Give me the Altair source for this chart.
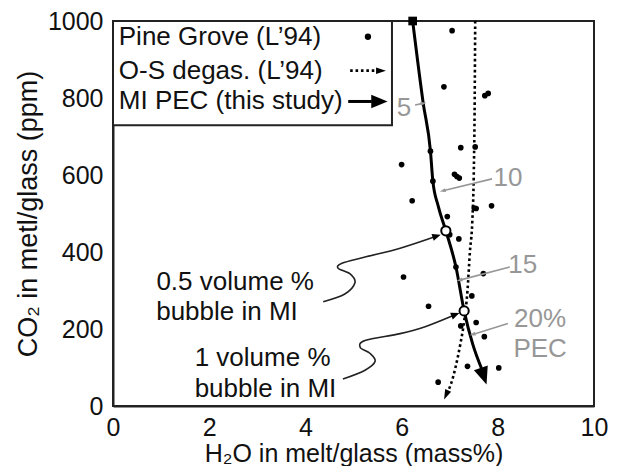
import math
import altair as alt
import pandas as pd

# ---------------- data ----------------
pine_h2o = [7.05, 6.88, 7.73, 7.80, 7.23, 7.53, 6.60, 6.00, 7.10, 7.15,
            7.20, 6.65, 6.22, 7.51, 7.55, 7.87, 6.95, 7.00, 7.19, 7.13,
            7.70, 6.04, 7.46, 6.56, 7.55, 7.23, 7.72, 7.37, 8.02, 6.76]
pine_co2 = [975, 829, 806, 812, 671, 673, 662, 627, 602, 596,
            592, 584, 533, 514, 513, 520, 492, 445, 434, 361,
            344, 335, 286, 259, 217, 208, 180, 103, 99, 62]

pec_h2o = [6.23, 6.45, 6.60, 6.65, 6.76, 6.92, 7.13, 7.30, 7.48, 7.66]
pec_co2 = [1000, 786, 662, 584, 520, 455, 361, 247, 160, 98]
pec_head = (7.70, 80)

deg_h2o = [7.53, 7.52, 7.50, 7.47, 7.42, 7.37, 7.30, 7.22, 7.12, 7.02, 6.97]
deg_co2 = [1000, 800, 600, 480, 400, 300, 220, 160, 100, 55, 40]
deg_head = (6.93, 30)

start_pt = (6.23, 1000)
bubble_h2o = [6.92, 7.30]
bubble_co2 = [455, 247]

curve1_h2o = [4.37, 4.82, 5.03, 4.93, 4.68, 4.76, 5.24, 5.97, 6.72]
curve1_co2 = [271, 291, 320, 343, 358, 371, 387, 410, 441]
curve2_h2o = [4.78, 5.24, 5.45, 5.34, 5.14, 5.24, 5.97, 6.49, 7.11]
curve2_co2 = [70, 93, 116, 137, 152, 170, 188, 206, 237]

note_text = ["0.5 volume %", "bubble in MI", "1 volume %", "bubble in MI"]
note_h2o = [2.54, 2.37, 3.11, 3.17]
note_co2 = [322, 245, 124, 44]

pec_lbl_text = ["5", "10", "15", "20%", "PEC"]
pec_lbl_h2o = [6.05, 8.21, 8.52, 8.88, 8.88]
pec_lbl_co2 = [773, 593, 366, 227, 147]

ptr_from_h2o = [6.28, 7.88, 8.25, 8.21]
ptr_from_co2 = [782, 590, 361, 214]
ptr_to_h2o = [6.45, 6.86, 7.21, 7.48]
ptr_to_co2 = [786, 559, 327, 186]

legend_labels = ["Pine Grove (L\u201994)", "O-S degas. (L\u201994)", "MI PEC (this study)"]
legend_box = (0.0, 5.80, 729, 1000)
legend_text_h2o = 0.12
legend_rows_co2 = [959, 871, 791]
legend_dot_h2o = 5.30
legend_line_from = [4.93, 4.89]
legend_line_to = [5.47, 5.38]
legend_head_h2o = [5.56, 5.52]

x_ticks = [0, 2, 4, 6, 8, 10]
y_ticks = [0, 200, 400, 600, 800, 1000]

# ---------------- layout ----------------
W, H = 481, 385
FONT = "Liberation Sans"
GRAY = "#979797"

def angle(x0, y0, x1, y1):
    dx = (x1 - x0) * W / 10.0
    dy = -(y1 - y0) * H / 1000.0
    return math.degrees(math.atan2(dx, -dy)) % 360

xs = alt.Scale(domain=[0, 10], nice=False, zero=False)
ys = alt.Scale(domain=[0, 1000], nice=False, zero=False)
x_axis = alt.Axis(values=x_ticks, title="H\u2082O in melt/glass (mass%)", labelFlush=False,
                  ticks=False, labelPadding=9, titlePadding=1, grid=False, format="d",
                  labelFontSize=25, titleFontSize=25)
y_axis = alt.Axis(values=y_ticks, title="CO\u2082 in metl/glass (ppm)", labelFlush=False,
                  ticks=False, labelPadding=10, titlePadding=5, grid=False, format="d",
                  labelFontSize=25)

def X(f="x"):
    return alt.X(f + ":Q", scale=xs, axis=x_axis)

def Y(f="y"):
    return alt.Y(f + ":Q", scale=ys, axis=y_axis)

ARROW = "M0,-1L0.75,0.8L-0.75,0.8Z"
SMALL_ARROW = "M0,-1L0.6,0.8L-0.6,0.8Z"

layers = []

# legend box
box = pd.DataFrame({"x": [legend_box[0]], "x2": [legend_box[1]],
                    "y": [legend_box[2]], "y2": [legend_box[3]]})
layers.append(alt.Chart(box).mark_rect(fill="white", stroke="#222222", strokeWidth=2).encode(
    x=X(), x2="x2:Q", y=Y(), y2="y2:Q"))

# Pine Grove dots
pine = pd.DataFrame({"x": pine_h2o, "y": pine_co2})
layers.append(alt.Chart(pine).mark_circle(color="black", opacity=1, size=32).encode(x=X(), y=Y()))

# O-S degassing dotted line
deg = pd.DataFrame({"x": deg_h2o, "y": deg_co2, "o": range(len(deg_h2o))})
layers.append(alt.Chart(deg).mark_line(color="black", strokeWidth=2.6, strokeDash=[2.6, 2.8],
                                       interpolate="monotone").encode(x=X(), y=Y(), order="o:Q"))
deg_ang = angle(deg_h2o[-2], deg_co2[-2], deg_head[0], deg_head[1])

# PEC solid line
pec = pd.DataFrame({"x": pec_h2o, "y": pec_co2, "o": range(len(pec_h2o))})
layers.append(alt.Chart(pec).mark_line(color="black", strokeWidth=3,
                                       interpolate="monotone").encode(x=X(), y=Y(), order="o:Q"))
pec_ang = angle(pec_h2o[-2], pec_co2[-2], pec_head[0], pec_head[1])

# curves from notes to bubbles
for i, (cx, cy) in enumerate([(curve1_h2o, curve1_co2), (curve2_h2o, curve2_co2)]):
    d = pd.DataFrame({"x": cx, "y": cy, "o": range(len(cx))})
    layers.append(alt.Chart(d).mark_line(color="#222222", strokeWidth=1.6,
                                         interpolate="cardinal").encode(x=X(), y=Y(), order="o:Q"))

# arrow heads (black)
heads = pd.DataFrame({
    "x": [pec_head[0], curve1_h2o[-1], curve2_h2o[-1]],
    "y": [pec_head[1], curve1_co2[-1], curve2_co2[-1]],
    "a": [pec_ang,
          angle(curve1_h2o[-2], curve1_co2[-2], curve1_h2o[-1], curve1_co2[-1]),
          angle(curve2_h2o[-2], curve2_co2[-2], curve2_h2o[-1], curve2_co2[-1])],
    "s": [380, 90, 90],
})
layers.append(alt.Chart(heads).mark_point(shape=ARROW, filled=True, color="black", opacity=1).encode(
    x=X(), y=Y(), angle=alt.Angle("a:Q", scale=None), size=alt.Size("s:Q", scale=None)))

deg_heads = pd.DataFrame({"x": [deg_head[0], legend_head_h2o[0]], "y": [deg_head[1], legend_rows_co2[1]],
                          "a": [deg_ang, 90]})
layers.append(alt.Chart(deg_heads).mark_point(shape=SMALL_ARROW, filled=True, color="black", opacity=1,
                                              size=120).encode(
    x=X(), y=Y(), angle=alt.Angle("a:Q", scale=None)))

# start square
sq = pd.DataFrame({"x": [start_pt[0]], "y": [start_pt[1]]})
layers.append(alt.Chart(sq).mark_square(color="black", opacity=1, size=75).encode(x=X(), y=Y()))

# bubble open circles
bub = pd.DataFrame({"x": bubble_h2o, "y": bubble_co2})
layers.append(alt.Chart(bub).mark_point(shape="circle", fill="white", filled=True, stroke="black",
                                        strokeWidth=2, opacity=1, size=85).encode(x=X(), y=Y()))

# gray pointers
ptr = pd.DataFrame({"x": ptr_from_h2o, "y": ptr_from_co2, "x2": ptr_to_h2o, "y2": ptr_to_co2})
layers.append(alt.Chart(ptr).mark_rule(color=GRAY, strokeWidth=1.6).encode(
    x=X(), y=Y(), x2="x2:Q", y2="y2:Q"))
ptr_heads = pd.DataFrame({"x": ptr_to_h2o, "y": ptr_to_co2,
                          "a": [angle(a, b, c, d) for a, b, c, d in
                                zip(ptr_from_h2o, ptr_from_co2, ptr_to_h2o, ptr_to_co2)]})
layers.append(alt.Chart(ptr_heads).mark_point(shape=SMALL_ARROW, filled=True, color=GRAY, opacity=1,
                                              size=45).encode(
    x=X(), y=Y(), angle=alt.Angle("a:Q", scale=None)))

# gray PEC labels
lbl = pd.DataFrame({"x": pec_lbl_h2o, "y": pec_lbl_co2, "t": pec_lbl_text})
layers.append(alt.Chart(lbl).mark_text(font=FONT, fontSize=26, color=GRAY, align="center",
                                       baseline="middle").encode(x=X(), y=Y(), text="t:N"))

# black notes
notes = pd.DataFrame({"x": note_h2o, "y": note_co2, "t": note_text})
layers.append(alt.Chart(notes).mark_text(font=FONT, fontSize=26, color="#111111", align="center",
                                         baseline="middle").encode(x=X(), y=Y(), text="t:N"))

# legend contents
leg_t = pd.DataFrame({"x": [legend_text_h2o] * 3, "y": legend_rows_co2, "t": legend_labels})
layers.append(alt.Chart(leg_t).mark_text(font=FONT, fontSize=26, color="#111111", align="left",
                                         baseline="middle").encode(x=X(), y=Y(), text="t:N"))
leg_dot = pd.DataFrame({"x": [legend_dot_h2o], "y": [legend_rows_co2[0]]})
layers.append(alt.Chart(leg_dot).mark_circle(color="black", opacity=1, size=40).encode(x=X(), y=Y()))
leg_dash = pd.DataFrame({"x": [legend_line_from[0]], "x2": [legend_line_to[0]], "y": [legend_rows_co2[1]]})
layers.append(alt.Chart(leg_dash).mark_rule(color="black", strokeWidth=2.6, strokeDash=[2.6, 2.8]).encode(
    x=X(), x2="x2:Q", y=Y()))
leg_solid = pd.DataFrame({"x": [legend_line_from[1]], "x2": [legend_line_to[1]], "y": [legend_rows_co2[2]]})
layers.append(alt.Chart(leg_solid).mark_rule(color="black", strokeWidth=3).encode(
    x=X(), x2="x2:Q", y=Y()))
leg_head = pd.DataFrame({"x": [legend_head_h2o[1]], "y": [legend_rows_co2[2]], "a": [90]})
layers.append(alt.Chart(leg_head).mark_point(shape=ARROW, filled=True, color="black", opacity=1,
                                             size=330).encode(
    x=X(), y=Y(), angle=alt.Angle("a:Q", scale=None)))

chart = alt.layer(*layers).properties(
    width=W, height=H,
    padding={"left": 105, "top": 13, "right": 22, "bottom": 60},
    autosize=alt.AutoSizeParams(type="none"),
).configure_view(
    stroke="#222222", strokeWidth=2
).configure_axis(
    domainColor="#222222", domainWidth=2, labelFont=FONT, titleFont=FONT,
    labelFontSize=26, titleFontSize=27, labelColor="#111111", titleColor="#111111",
    titleFontWeight="normal"
)

chart.save("out.html", embed_options={"renderer": "svg", "actions": False})
